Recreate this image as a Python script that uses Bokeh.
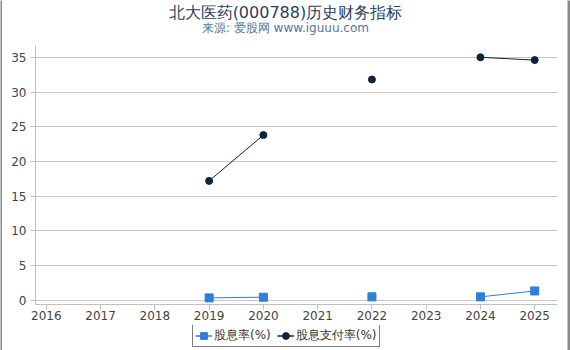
from bokeh.plotting import figure
from bokeh.models import (Range1d, FixedTicker, Legend, LegendItem, ColumnDataSource)
from bokeh.layouts import column, row
from bokeh.core.properties import value
from bokeh.embed import file_html
from bokeh.resources import INLINE
import numpy as np

years = [2016, 2017, 2018, 2019, 2020, 2021, 2022, 2023, 2024, 2025]
dividend_yield = [np.nan, np.nan, np.nan, 0.35, 0.45, np.nan, 0.5, np.nan, 0.5, 1.35]
payout_ratio = [np.nan, np.nan, np.nan, 17.2, 23.8, np.nan, 31.8, np.nan, 35.0, 34.6]
y_ticks = [0, 5, 10, 15, 20, 25, 30, 35]
series_names = ["股息率(%)", "股息支付率(%)"]
title_text = "北大医药(000788)历史财务指标"
subtitle_text = "来源: 爱股网 www.iguuu.com"

FONT = "DejaVu Sans"
c1 = "#2f7ed8"
c2 = "#0d233a"
EDGE = "#8a8a8a"
CW = 565  # content width


def blank(w, h, fill="white", xr=(0, 1), yr=(0, 1)):
    f = figure(width=w, height=h, output_backend="svg", toolbar_location=None,
               x_range=Range1d(*xr), y_range=Range1d(*yr),
               x_axis_location=None, y_axis_location=None,
               min_border=0, min_border_left=0, min_border_right=0,
               min_border_top=0, min_border_bottom=0)
    f.grid.visible = False
    f.outline_line_color = None
    f.background_fill_color = fill
    f.border_fill_color = fill
    return f


# header with title and subtitle (frames in the column are aligned with the main chart)
hdr = blank(CW, 45, xr=(0, CW), yr=(0, 45))
hx = CW / 2 - 12
hdr.text(x=[hx], y=[33.5], text=[title_text], text_align="center", text_baseline="middle",
         text_font=value(FONT), text_font_size="16px", text_color="#2b3f5c")
hdr.text(x=[hx], y=[17.5], text=[subtitle_text], text_align="center", text_baseline="middle",
         text_font=value(FONT), text_font_size="12px", text_color="#5577a0")

# main chart
p = figure(width=CW, height=280, output_backend="svg", toolbar_location=None,
           x_range=Range1d(2015.8, 2025.42), y_range=Range1d(-0.6, 36.7),
           min_border_left=33, min_border_right=10, min_border_top=0, min_border_bottom=21)
p.outline_line_color = None
p.background_fill_color = "white"
p.border_fill_color = "white"

p.xaxis.ticker = FixedTicker(ticks=years)
p.yaxis.ticker = FixedTicker(ticks=y_ticks)
p.xgrid.grid_line_color = None
p.ygrid.grid_line_color = "#c8c8c8"
p.ygrid.grid_line_width = 1

for ax in (p.xaxis[0], p.yaxis[0]):
    ax.axis_line_color = "#c0c0c0"
    ax.major_tick_line_color = "#c0c0c0"
    ax.minor_tick_line_color = None
    ax.major_tick_in = 0
    ax.major_tick_out = 5
    ax.major_label_text_font = FONT
    ax.major_label_text_font_size = "12px"
    ax.major_label_text_color = "#444444"
p.yaxis.major_label_standoff = 4
p.xaxis.major_label_standoff = 1

src = ColumnDataSource(dict(x=years, dy=dividend_yield, pr=payout_ratio))
p.line("x", "dy", source=src, line_color=c1, line_width=1)
p.scatter("x", "dy", source=src, marker="square", size=8, fill_color=c1, line_color=c1)
p.line("x", "pr", source=src, line_color=c2, line_width=1)
p.scatter("x", "pr", source=src, marker="circle", size=7, fill_color=c2, line_color=c2)

# legend strip
lf = blank(CW, 23)
proxy = ColumnDataSource(dict(x=[np.nan], y=[np.nan]))
a1 = lf.line("x", "y", source=proxy, line_color=c1, line_width=1.5)
b1 = lf.scatter("x", "y", source=proxy, marker="square", size=8, fill_color=c1, line_color=c1)
a2 = lf.line("x", "y", source=proxy, line_color=c2, line_width=1.5)
b2 = lf.scatter("x", "y", source=proxy, marker="circle", size=7, fill_color=c2, line_color=c2)
legend = Legend(items=[LegendItem(label=series_names[0], renderers=[a1, b1]),
                       LegendItem(label=series_names[1], renderers=[a2, b2])],
                orientation="horizontal", location=(157, 1),
                border_line_color="black", border_line_width=1,
                label_text_font=FONT, label_text_font_size="12px", label_text_color="#333333",
                glyph_width=17, glyph_height=17, label_standoff=2, spacing=6,
                padding=2, margin=0, label_height=14)
lf.add_layout(legend, "center")

bottom_edge = blank(CW, 2, fill=EDGE)
left_edge = blank(2, 350, fill=EDGE)
right_edge = blank(3, 350, fill=EDGE)

content = column(hdr, p, lf, bottom_edge, spacing=0)
layout = row(left_edge, content, right_edge, spacing=0)
open("out.html", "w").write(file_html(layout, INLINE))
